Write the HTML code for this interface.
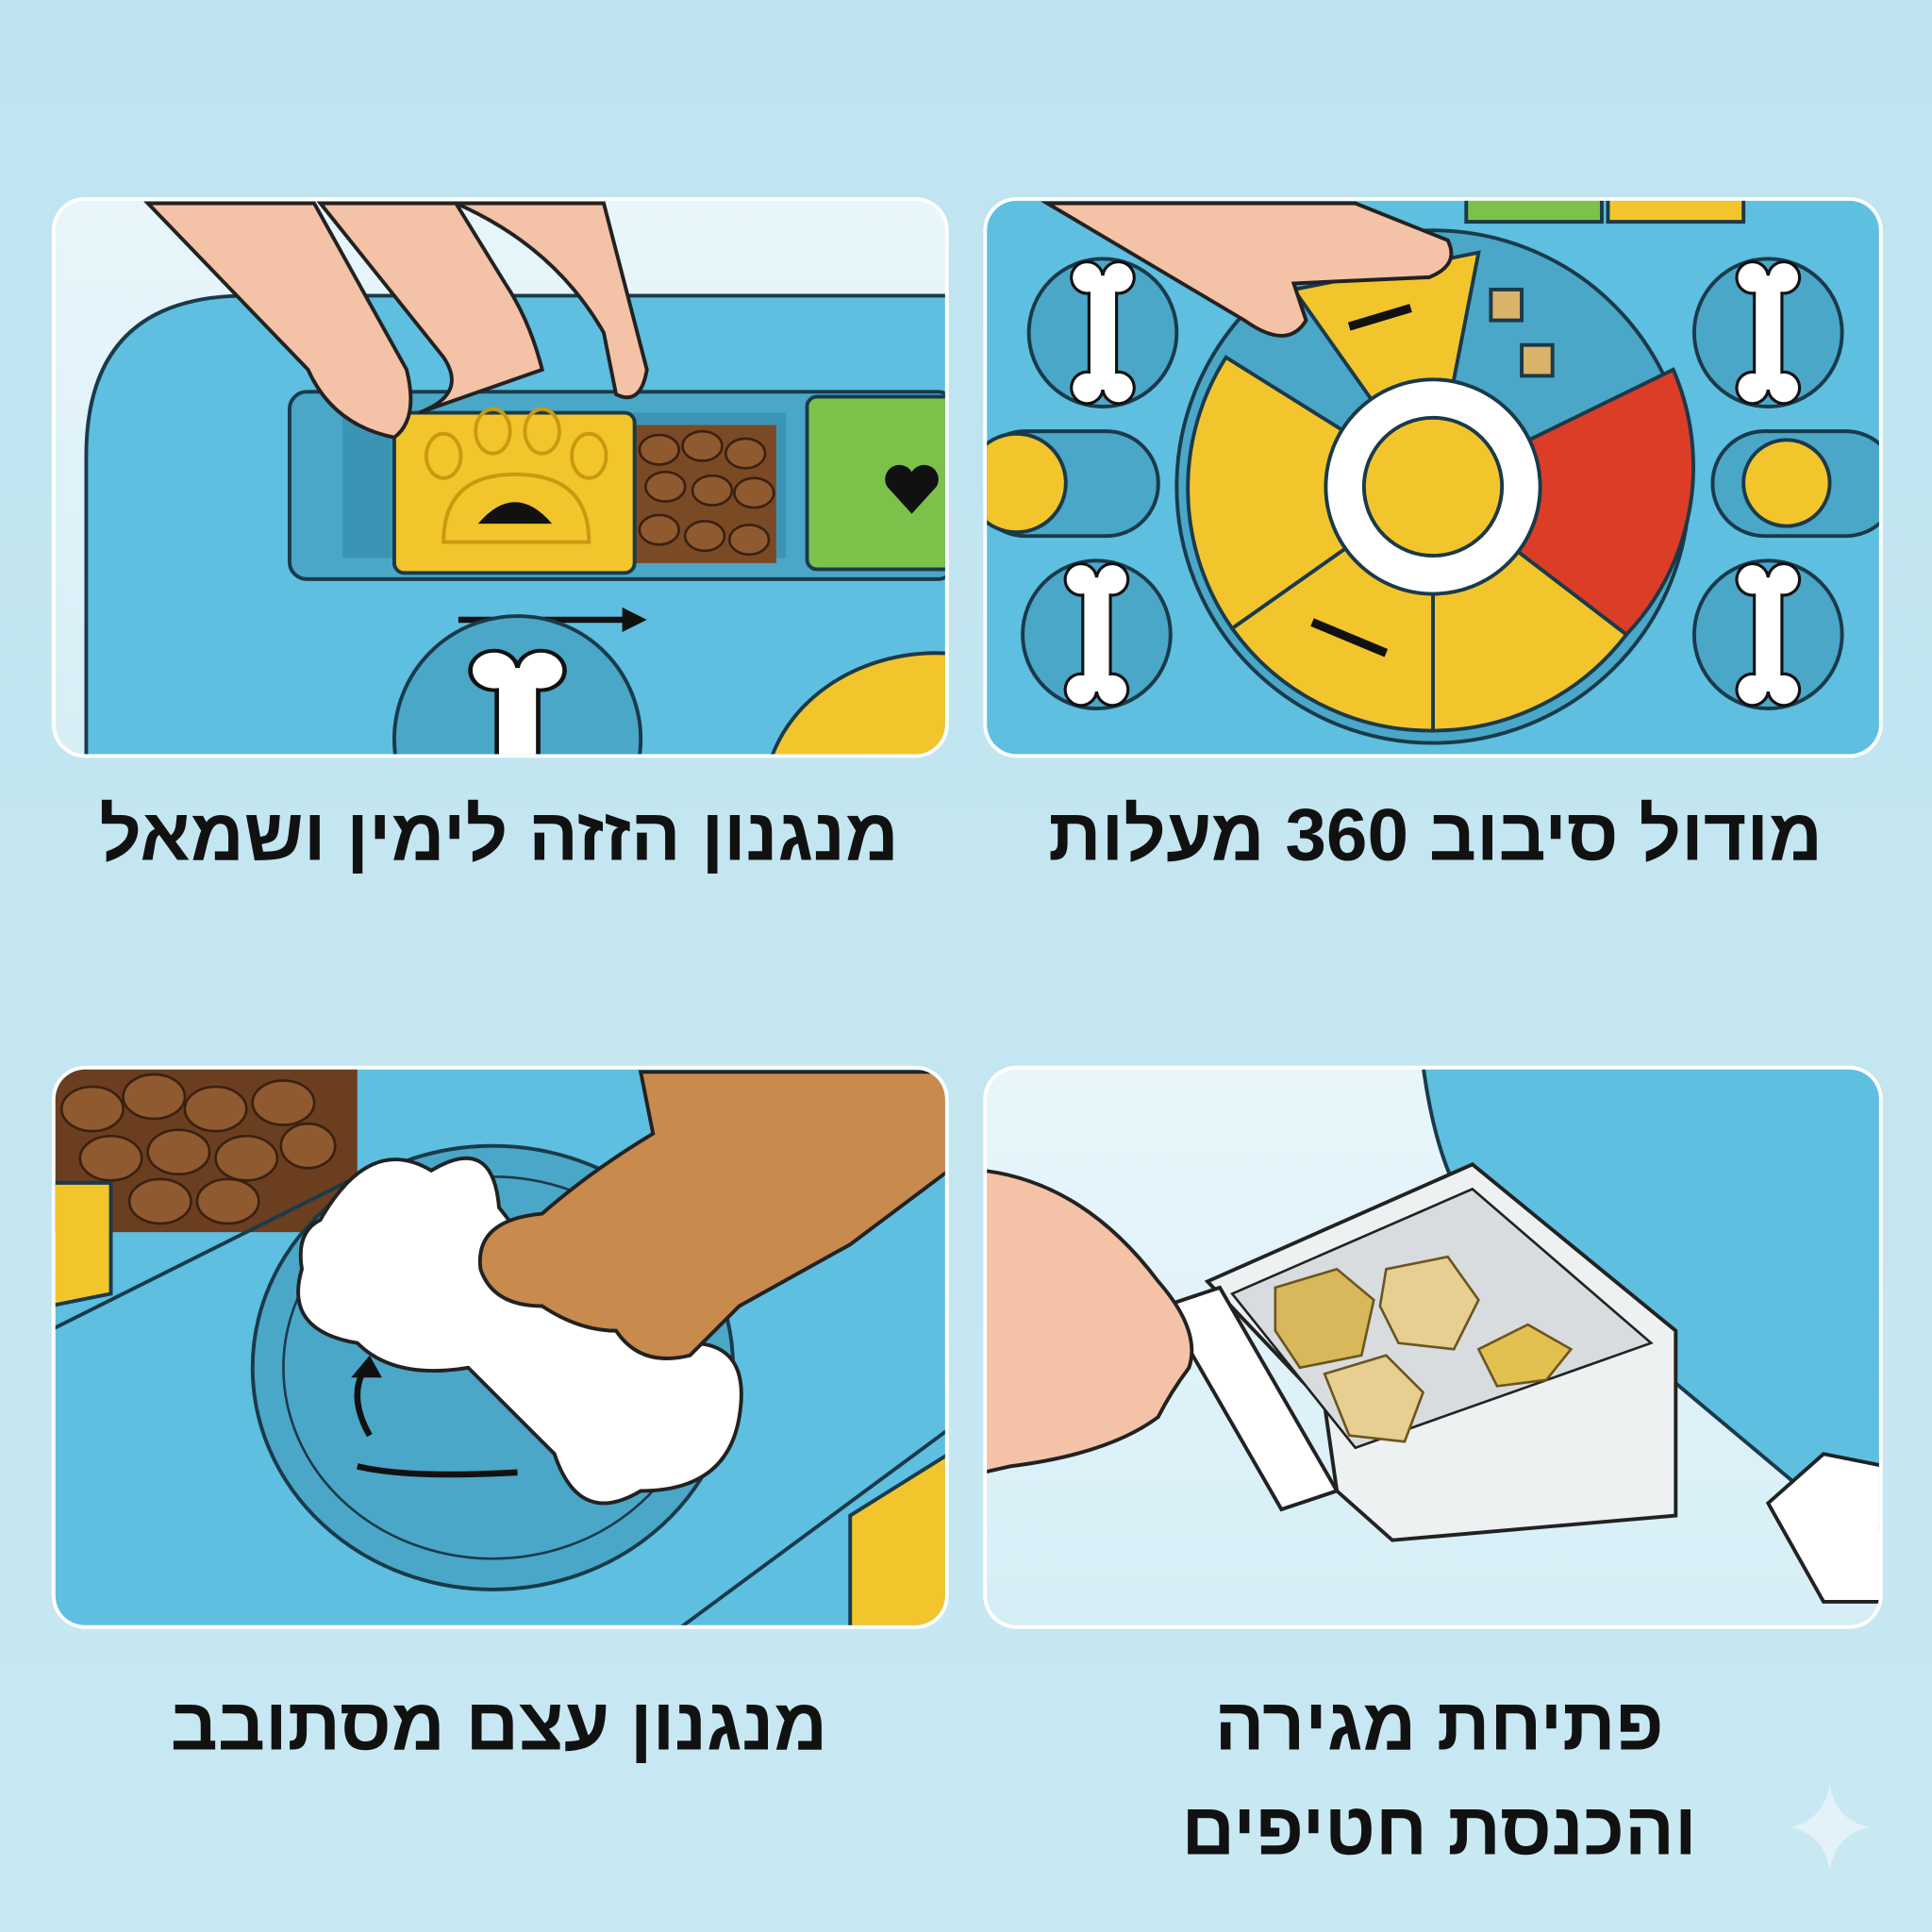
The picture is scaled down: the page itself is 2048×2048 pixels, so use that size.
<!DOCTYPE html>
<html><head><meta charset="utf-8"><style>
html,body{margin:0;padding:0;width:2048px;height:2048px;overflow:hidden;background:#c6e7f1}
svg{display:block}
text{font-family:"Liberation Sans","Noto Sans CJK SC",sans-serif;font-weight:bold;fill:#111}
</style></head><body>
<svg width="2048" height="2048" viewBox="0 0 1568 1568" xmlns="http://www.w3.org/2000/svg">
<defs>
<linearGradient id="bg" x1="0" y1="0" x2="0" y2="1"><stop offset="0" stop-color="#bfe4f0"/><stop offset="1" stop-color="#c8e8f2"/></linearGradient>
<linearGradient id="lt" x1="0" y1="0" x2="0" y2="1"><stop offset="0" stop-color="#e8f6fb"/><stop offset="1" stop-color="#d6eef6"/></linearGradient>
<clipPath id="c1"><rect x="45" y="163" width="722" height="449" rx="24"/></clipPath>
<clipPath id="c2"><rect x="801" y="163" width="724" height="449" rx="24"/></clipPath>
<clipPath id="c3"><rect x="45" y="868" width="722" height="451" rx="24"/></clipPath>
<clipPath id="c4"><rect x="801" y="868" width="724" height="451" rx="24"/></clipPath>
<g id="bone"><path d="M-14,-40 a16,16 0 1,1 14,-18 a16,16 0 1,1 14,18 v80 a16,16 0 1,1 -14,18 a16,16 0 1,1 -14,-18z" fill="#fff" stroke="#111" stroke-width="3"/></g>
</defs>
<rect width="1568" height="1568" fill="url(#bg)"/>

<!-- panel borders -->
<rect x="42" y="160" width="728" height="455" rx="27" fill="#fff"/>
<rect x="798" y="160" width="730" height="455" rx="27" fill="#fff"/>
<rect x="42" y="865" width="728" height="457" rx="27" fill="#fff"/>
<rect x="798" y="865" width="730" height="457" rx="27" fill="#fff"/>

<!-- TL -->
<g clip-path="url(#c1)">
<rect x="40" y="160" width="730" height="460" fill="url(#lt)"/>
<path d="M70,620 V370 Q70,240 200,240 H770 V620Z" fill="#5ebfe0" stroke="#1a3a4a" stroke-width="3"/>
<rect x="235" y="318" width="540" height="152" rx="14" fill="#4aa7c8" stroke="#1a3a4a" stroke-width="3"/>
<rect x="278" y="335" width="360" height="118" fill="#3c94b5"/>
<rect x="515" y="345" width="115" height="112" fill="#7a4a25"/>
<g fill="#8f5a30" stroke="#3a2010" stroke-width="2">
<ellipse cx="535" cy="365" rx="16" ry="12"/><ellipse cx="570" cy="362" rx="16" ry="12"/><ellipse cx="605" cy="368" rx="16" ry="12"/>
<ellipse cx="540" cy="395" rx="16" ry="12"/><ellipse cx="578" cy="398" rx="16" ry="12"/><ellipse cx="612" cy="400" rx="16" ry="12"/>
<ellipse cx="535" cy="430" rx="16" ry="12"/><ellipse cx="572" cy="435" rx="16" ry="12"/><ellipse cx="608" cy="438" rx="16" ry="12"/></g>
<rect x="655" y="322" width="120" height="140" rx="8" fill="#7cc24a" stroke="#1a3a4a" stroke-width="3"/>
<path d="M760,395 l-20,22 l-20,-22 a11,11 0 0,1 20,-12 a11,11 0 0,1 20,12z" fill="#111"/>
<rect x="320" y="335" width="195" height="130" rx="8" fill="#f3c52c" stroke="#1a3a4a" stroke-width="3"/>
<g fill="none" stroke="#c99a10" stroke-width="3"><ellipse cx="360" cy="370" rx="14" ry="18"/><ellipse cx="400" cy="350" rx="14" ry="18"/><ellipse cx="440" cy="350" rx="14" ry="18"/><ellipse cx="478" cy="370" rx="14" ry="18"/><path d="M360,440 Q360,385 418,385 Q478,385 478,440Z"/></g>
<path d="M388,425 Q418,390 448,425Z" fill="#111"/>
<line x1="372" y1="503" x2="510" y2="503" stroke="#111" stroke-width="5"/><path d="M525,503 l-20,-10 v20z" fill="#111"/>
<circle cx="420" cy="600" r="100" fill="#4aa7c8" stroke="#1a3a4a" stroke-width="3"/>
<use href="#bone" transform="translate(420,600) scale(1.2,1)"/>
<ellipse cx="760" cy="650" rx="140" ry="120" fill="#f3c52c" stroke="#1a3a4a" stroke-width="3"/>
<path d="M120,165 L250,300 Q270,345 320,355 Q340,340 330,300 L255,165Z" fill="#f4c2a6" stroke="#222" stroke-width="3"/>
<path d="M260,165 L360,290 Q380,320 340,335 L440,300 Q430,260 410,230 L370,165Z" fill="#f4c2a6" stroke="#222" stroke-width="3"/>
<path d="M370,165 Q450,200 490,270 L500,320 Q520,330 525,300 L490,165Z" fill="#f4c2a6" stroke="#222" stroke-width="3"/>
</g>

<!-- TR -->
<g clip-path="url(#c2)">
<rect x="798" y="160" width="730" height="460" fill="#5ebfe0"/>
<rect x="1190" y="155" width="110" height="25" fill="#7cc24a" stroke="#1a3a4a" stroke-width="3"/>
<rect x="1305" y="155" width="110" height="25" fill="#f3c52c" stroke="#1a3a4a" stroke-width="3"/>
<g fill="#4aa7c8" stroke="#1a3a4a" stroke-width="3">
<circle cx="895" cy="270" r="60"/><circle cx="1435" cy="270" r="60"/><circle cx="890" cy="515" r="60"/><circle cx="1435" cy="515" r="60"/>
<rect x="790" y="350" width="150" height="85" rx="42"/><rect x="1390" y="350" width="150" height="85" rx="42"/></g>
<use href="#bone" transform="translate(895,270) scale(0.8)"/><use href="#bone" transform="translate(1435,270) scale(0.8)"/>
<use href="#bone" transform="translate(890,515) scale(0.8)"/><use href="#bone" transform="translate(1435,515) scale(0.8)"/>
<circle cx="825" cy="392" r="40" fill="#f3c52c" stroke="#1a3a4a" stroke-width="3"/>
<circle cx="1450" cy="392" r="35" fill="#f3c52c" stroke="#1a3a4a" stroke-width="3"/>
<circle cx="1163" cy="395" r="208" fill="#4aa7c8" stroke="#1a3a4a" stroke-width="3"/>
<g stroke="#1a3a4a" stroke-width="3">
<path d="M1163,395 L1358,300 A198,198 0 0,1 1320,515Z" fill="#dc3d27"/>
<path d="M1163,395 L1320,515 A198,198 0 0,1 1163,593Z" fill="#f3c52c"/>
<path d="M1163,395 L1163,593 A198,198 0 0,1 1000,510Z" fill="#f3c52c"/>
<path d="M1163,395 L1000,510 A198,198 0 0,1 995,290Z" fill="#f3c52c"/>
<path d="M1163,395 L1050,235 L1200,205 Z" fill="#f3c52c"/>
<rect x="1210" y="235" width="25" height="25" fill="#d9b36a"/><rect x="1235" y="280" width="25" height="25" fill="#d9b36a"/>
</g>
<circle cx="1163" cy="395" r="87" fill="#fff" stroke="#1a3a4a" stroke-width="3"/>
<circle cx="1163" cy="395" r="56" fill="#f3c52c" stroke="#1a3a4a" stroke-width="3"/>
<g stroke="#111" stroke-width="7"><line x1="1095" y1="265" x2="1145" y2="250"/><line x1="1065" y1="505" x2="1125" y2="530"/></g>
<path d="M850,165 L1010,260 Q1045,285 1060,260 L1050,230 L1160,225 Q1185,215 1175,195 L1100,165Z" fill="#f4c2a6" stroke="#222" stroke-width="3"/>
</g>

<!-- BL -->
<g clip-path="url(#c3)">
<rect x="40" y="865" width="730" height="460" fill="#5ebfe0"/>
<path d="M40,865 H290 V960 Q290,1000 250,1000 H40Z" fill="#6a3e1f"/>
<g fill="#8f5a30" stroke="#3a2010" stroke-width="2">
<ellipse cx="75" cy="900" rx="25" ry="18"/><ellipse cx="125" cy="890" rx="25" ry="18"/><ellipse cx="175" cy="900" rx="25" ry="18"/><ellipse cx="230" cy="895" rx="25" ry="18"/>
<ellipse cx="90" cy="940" rx="25" ry="18"/><ellipse cx="145" cy="935" rx="25" ry="18"/><ellipse cx="200" cy="940" rx="25" ry="18"/><ellipse cx="250" cy="930" rx="22" ry="18"/>
<ellipse cx="130" cy="975" rx="25" ry="18"/><ellipse cx="185" cy="975" rx="25" ry="18"/></g>
<path d="M40,960 L90,960 L90,1050 L40,1060Z" fill="#f3c52c" stroke="#1a3a4a" stroke-width="3"/>
<path d="M40,1080 L300,950" stroke="#1a3a4a" stroke-width="3"/>
<path d="M540,1330 L770,1160" stroke="#1a3a4a" stroke-width="3"/>
<path d="M690,1230 L770,1180 V1330 H690Z" fill="#f3c52c" stroke="#1a3a4a" stroke-width="3"/>
<ellipse cx="400" cy="1110" rx="195" ry="180" fill="#4aa7c8" stroke="#1a3a4a" stroke-width="3"/>
<ellipse cx="400" cy="1110" rx="170" ry="155" fill="none" stroke="#1a3a4a" stroke-width="2"/>
<path d="M260,990 Q300,920 350,950 Q400,920 405,980 L460,1050 Q540,1040 560,1090 Q610,1090 600,1150 Q590,1210 520,1210 Q470,1240 450,1180 L380,1110 Q320,1120 290,1090 Q230,1080 245,1030 Q240,1000 260,990Z" fill="#fff" stroke="#222" stroke-width="3"/>
<path d="M290,1190 Q330,1200 420,1195" fill="none" stroke="#111" stroke-width="5"/>
<path d="M300,1165 Q280,1130 300,1105" fill="none" stroke="#111" stroke-width="5"/><path d="M300,1100 l-15,18 h25z" fill="#111"/>
<path d="M520,870 L770,870 V950 L690,1010 L600,1060 L560,1100 Q520,1110 500,1080 Q470,1080 440,1060 Q400,1060 390,1030 Q385,990 440,985 Q480,950 530,920Z" fill="#c98a4e" stroke="#222" stroke-width="3"/>
</g>

<!-- BR -->
<g clip-path="url(#c4)">
<rect x="798" y="865" width="730" height="460" fill="url(#lt)"/>
<path d="M1155,865 Q1165,940 1190,980 L1500,1240 L1530,1240 V865Z" fill="#5ebfe0" stroke="#1a3a4a" stroke-width="3"/>
<path d="M1435,1220 L1480,1180 L1530,1190 V1300 L1480,1300Z" fill="#fff" stroke="#222" stroke-width="3"/>
<path d="M980,1040 L1195,945 L1360,1080 L1360,1230 L1130,1250 L1085,1210 L1075,1140Z" fill="#eef1f2" stroke="#222" stroke-width="3"/>
<path d="M1000,1050 L1195,965 L1340,1090 L1100,1175Z" fill="#d8dcde" stroke="#222" stroke-width="2"/>
<g stroke="#6b5520" stroke-width="2"><path d="M1035,1045 l50,-15 l30,25 l-10,45 l-50,10 l-20,-30z" fill="#d8b85a"/><path d="M1125,1030 l50,-10 l25,35 l-20,40 l-45,-5 l-15,-30z" fill="#e6cf90"/><path d="M1075,1115 l50,-15 l30,30 l-15,40 l-45,-5z" fill="#e6cf90"/><path d="M1200,1095 l40,-20 l35,20 l-20,25 l-40,5z" fill="#e2c050"/></g>
<path d="M945,1060 L990,1045 L1085,1210 L1040,1225Z" fill="#fff" stroke="#222" stroke-width="3"/>
<path d="M798,950 Q880,960 940,1040 Q975,1080 965,1110 Q950,1130 940,1150 Q900,1180 820,1190 L798,1195Z" fill="#f4c2a6" stroke="#222" stroke-width="3"/>
</g>

<!-- captions -->
<text x="405" y="698" font-size="60" text-anchor="middle" direction="rtl">מנגנון הזזה לימין ושמאל</text>
<text x="1165" y="698" font-size="60" text-anchor="middle" direction="rtl">מודול סיבוב 360 מעלות</text>
<text x="405" y="1420" font-size="60" text-anchor="middle" direction="rtl">מנגנון עצם מסתובב</text>
<text x="1168" y="1420" font-size="60" text-anchor="middle" direction="rtl">פתיחת מגירה</text>
<text x="1168" y="1505" font-size="60" text-anchor="middle" direction="rtl">והכנסת חטיפים</text>
<path d="M1485,1448 Q1490,1478 1518,1483 Q1490,1488 1485,1518 Q1480,1488 1452,1483 Q1480,1478 1485,1448Z" fill="#e2f2f8"/>
</svg>
</body></html>
